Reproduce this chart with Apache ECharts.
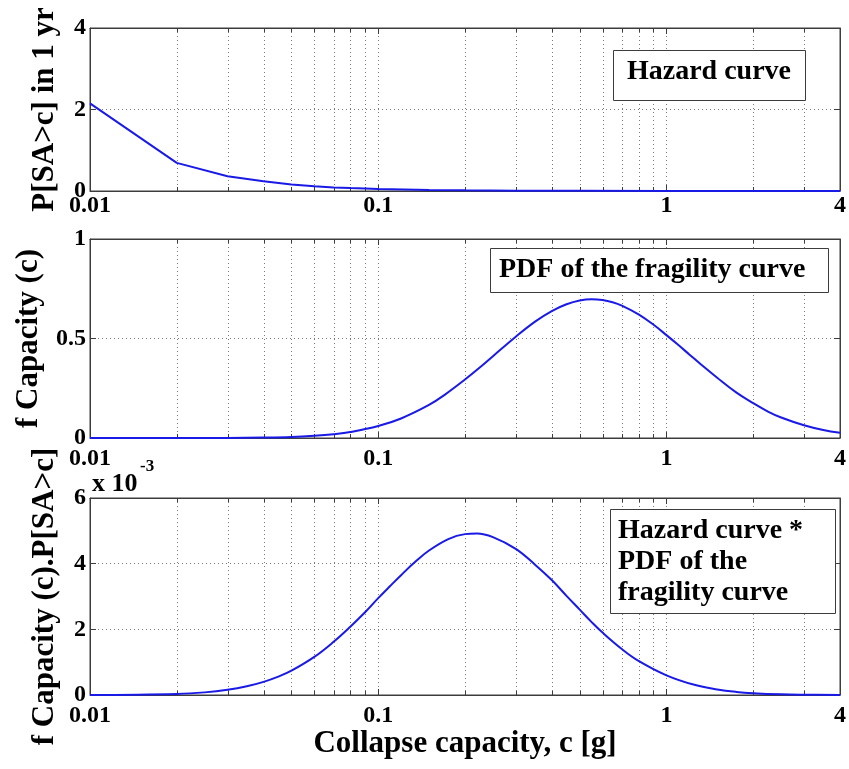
<!DOCTYPE html>
<html>
<head>
<meta charset="utf-8">
<script src="https://cdn.jsdelivr.net/npm/echarts@6/dist/echarts.min.js"></script>
<style>
  html, body { margin: 0; padding: 0; background: #ffffff; }
  #chart { width: 849px; height: 769px; }
</style>
</head>
<body>
<div id="chart"></div>
<script>
// Collapse risk integrand: hazard curve, capacity PDF and their product (log Sa axis)

// Spectral acceleration tick labels and minor grid positions [g]
const xTickLabels = [0.01, 0.1, 1, 4];
const minorGridSa = [0.02, 0.03, 0.04, 0.05, 0.06, 0.07, 0.08, 0.09,
                     0.2, 0.3, 0.4, 0.5, 0.6, 0.7, 0.8, 0.9, 2, 3];

// Hazard curve: annual probability of exceedance P[SA>c]
const hazardSa   = [0.01, 0.02, 0.03, 0.04, 0.05, 0.06, 0.07, 0.08, 0.09, 0.1,
                    0.15, 0.2, 0.3, 0.5, 1, 2, 4];
const hazardProb = [2.15, 0.69, 0.36, 0.24, 0.16, 0.115, 0.088, 0.071, 0.059, 0.049,
                    0.025, 0.016, 0.008, 0.0035, 0.0011, 0.0004, 0.0001];

// Probability density of the collapse capacity (fragility curve PDF)
const pdfSa     = [0.01, 0.02, 0.03, 0.04, 0.05, 0.06, 0.07, 0.08, 0.1, 0.12,
                   0.15, 0.17, 0.2, 0.225, 0.25, 0.3, 0.35, 0.4, 0.45, 0.5,
                   0.55, 0.6, 0.65, 0.7, 0.8, 0.9, 1, 1.1, 1.2, 1.3,
                   1.5, 1.75, 2, 2.25, 2.5, 3, 3.5, 4];
const pdfValues = [0, 0.0001, 0.0005, 0.002, 0.005, 0.011, 0.019, 0.03, 0.06, 0.098,
                   0.166, 0.217, 0.294, 0.354, 0.411, 0.509, 0.585, 0.638, 0.672, 0.691,
                   0.697, 0.693, 0.682, 0.665, 0.621, 0.570, 0.517, 0.467, 0.420, 0.377,
                   0.303, 0.228, 0.175, 0.133, 0.103, 0.064, 0.040, 0.026];

// Product of capacity PDF and hazard
const productSa     = [0.01, 0.02, 0.025, 0.03, 0.035, 0.04, 0.045, 0.05, 0.06, 0.07,
                       0.08, 0.09, 0.1, 0.11, 0.12, 0.135, 0.15, 0.175, 0.2, 0.22,
                       0.25, 0.3, 0.35, 0.4, 0.45, 0.5, 0.55, 0.6, 0.7, 0.8,
                       1, 1.25, 1.5, 1.75, 2, 2.5, 3, 4];
const productValues = [1e-6, 3.3e-5, 8.0e-5, 1.57e-4, 2.64e-4, 4.0e-4, 5.6e-4, 7.4e-4, 1.16e-3, 1.62e-3,
                       2.08e-3, 2.52e-3, 2.95e-3, 3.32e-3, 3.65e-3, 4.07e-3, 4.40e-3, 4.75e-3, 4.90e-3, 4.92e-3,
                       4.81e-3, 4.45e-3, 3.97e-3, 3.50e-3, 3.02e-3, 2.60e-3, 2.22e-3, 1.90e-3, 1.40e-3, 1.04e-3,
                       6.0e-4, 3.1e-4, 1.7e-4, 9.5e-5, 5.7e-5, 2.2e-5, 1.0e-5, 2e-6];

// Panel annotations and axis titles
const panelNotes = ['Hazard curve', 'PDF of the fragility curve',
                    'Hazard curve *\nPDF of the\nfragility curve'];
const yTitles = ['P[SA>c] in 1 yr', 'f Capacity (c)', 'f Capacity (c).P[SA>c]'];
const xTitle = 'Collapse capacity, c [g]';

const FONT = '"Liberation Serif", "Times New Roman", serif';
const INK = '#000000';
const FRAME = '#3c3c3c';
const GRID_DOT = '#7a7a7a';
const LINE_BLUE = '#1a1ae6';

const pairs = (xs, ys) => xs.map((x, i) => [x, ys[i]]);

const panels = [
  { top: 28,  height: 163, yMax: 4,     yStep: 2,     data: pairs(hazardSa, hazardProb),
    yFmt: v => String(v), nameGap: 30, labelMargin: 3, smooth: false },
  { top: 239, height: 199, yMax: 1,     yStep: 0.5,   data: pairs(pdfSa, pdfValues),
    yFmt: v => String(v), nameGap: 46, labelMargin: 9, smooth: 0.4 },
  { top: 498, height: 197, yMax: 0.006, yStep: 0.002, data: pairs(productSa, productValues),
    yFmt: v => String(Math.round(v * 1000)), nameGap: 30, labelMargin: 9, smooth: 0.4 }
];

const grid = [], xAxis = [], yAxis = [], series = [];

panels.forEach((p, i) => {
  grid.push({
    left: 90, top: p.top, width: 753, height: p.height,
    show: true, borderColor: FRAME, borderWidth: 1, backgroundColor: '#ffffff'
  });
  const logBase = {
    type: 'log', logBase: 10, gridIndex: i, min: 0.01, max: 4
  };
  // bottom x axis with labels and major dotted grid
  xAxis.push(Object.assign({}, logBase, {
    position: 'bottom',
    axisLine: { show: true, onZero: false, lineStyle: { color: FRAME, width: 1 } },
    axisTick: { show: true, inside: true, length: 6, lineStyle: { color: FRAME } },
    axisLabel: {
      show: true, margin: p.labelMargin, color: INK, fontFamily: FONT,
      fontWeight: 'bold', fontSize: 24,
      formatter: v => String(+(+v).toPrecision(3))
    },
    splitLine: { show: true, lineStyle: { color: GRID_DOT, type: [1, 3], width: 1 } },
    minorTick: { show: false }, minorSplitLine: { show: false },
    name: i === 2 ? xTitle : '',
    nameLocation: 'middle', nameGap: 33,
    nameTextStyle: { color: INK, fontFamily: FONT, fontWeight: 'bold', fontSize: 31,
                     verticalAlign: 'top' }
  }));
  // top mirror axis: ticks only
  xAxis.push(Object.assign({}, logBase, {
    position: 'top',
    axisLine: { show: true, onZero: false, lineStyle: { color: FRAME, width: 1 } },
    axisTick: { show: true, inside: true, length: 6, lineStyle: { color: FRAME } },
    axisLabel: { show: false }, splitLine: { show: false }
  }));
  // left y axis with labels
  yAxis.push({
    type: 'value', gridIndex: i, position: 'left', min: 0, max: p.yMax, interval: p.yStep,
    axisLine: { show: true, lineStyle: { color: FRAME, width: 1 } },
    axisTick: { show: true, inside: true, length: 6, lineStyle: { color: FRAME } },
    axisLabel: { show: true, margin: 4, color: INK, fontFamily: FONT, fontWeight: 'bold',
                 fontSize: 24, formatter: p.yFmt },
    splitLine: { show: true, lineStyle: { color: GRID_DOT, type: [1, 3], width: 1 } },
    name: yTitles[i], nameLocation: 'middle', nameRotate: 90, nameGap: p.nameGap,
    nameTextStyle: { color: INK, fontFamily: FONT, fontWeight: 'bold', fontSize: 31 }
  });
  // right mirror axis: ticks only
  yAxis.push({
    type: 'value', gridIndex: i, position: 'right', min: 0, max: p.yMax, interval: p.yStep,
    axisLine: { show: true, lineStyle: { color: FRAME, width: 1 } },
    axisTick: { show: true, inside: true, length: 6, lineStyle: { color: FRAME } },
    axisLabel: { show: false }, splitLine: { show: false }
  });

  // minor decade grid lines (2..9 multiples) with inward ticks on both edges
  series.push({
    type: 'custom', xAxisIndex: 2 * i, yAxisIndex: 2 * i, silent: true, z: 1,
    data: minorGridSa.map(v => [v, 0]),
    renderItem: (params, api) => {
      const cs = params.coordSys;
      const x = Math.round(api.coord([api.value(0), 0])[0]) + 0.5;
      const y0 = cs.y, y1 = cs.y + cs.height;
      return {
        type: 'group', children: [
          { type: 'line', shape: { x1: x, y1: y0, x2: x, y2: y1 },
            style: { stroke: GRID_DOT, lineWidth: 1, lineDash: [1, 3] } },
          { type: 'line', shape: { x1: x, y1: y1, x2: x, y2: y1 - 4 },
            style: { stroke: FRAME, lineWidth: 1 } },
          { type: 'line', shape: { x1: x, y1: y0, x2: x, y2: y0 + 4 },
            style: { stroke: FRAME, lineWidth: 1 } }
        ]
      };
    }
  });

  series.push({
    type: 'line', xAxisIndex: 2 * i, yAxisIndex: 2 * i, z: 3,
    data: p.data, showSymbol: false, smooth: p.smooth,
    lineStyle: { color: LINE_BLUE, width: 2 }, clip: false
  });
});

const noteStyle = { fill: INK, font: 'bold 28px ' + FONT };

const graphic = [
  // Hazard curve label
  { type: 'rect', left: 613, top: 50, shape: { width: 192, height: 50 },
    style: { fill: '#ffffff', stroke: FRAME, lineWidth: 1 }, z: 10 },
  { type: 'text', x: 709, y: 72, z: 11,
    style: Object.assign({ text: panelNotes[0], textAlign: 'center', textVerticalAlign: 'middle' }, noteStyle) },
  // PDF label
  { type: 'rect', left: 490, top: 248, shape: { width: 338, height: 44 },
    style: { fill: '#ffffff', stroke: FRAME, lineWidth: 1 }, z: 10 },
  { type: 'text', x: 499, y: 270, z: 11,
    style: Object.assign({ text: panelNotes[1], textAlign: 'left', textVerticalAlign: 'middle' }, noteStyle) },
  // Product label
  { type: 'rect', left: 610, top: 509, shape: { width: 225, height: 104 },
    style: { fill: '#ffffff', stroke: FRAME, lineWidth: 1 }, z: 10 },
  { type: 'text', x: 618, y: 515, z: 11,
    style: Object.assign({ text: panelNotes[2], textAlign: 'left', textVerticalAlign: 'top',
                           lineHeight: 31 }, noteStyle) },
  // exponent multiplier for the bottom panel
  { type: 'text', x: 92, y: 484, z: 11,
    style: { text: 'x 10', fill: INK, font: 'bold 26px ' + FONT, textVerticalAlign: 'middle' } },
  { type: 'text', x: 140, y: 467, z: 11,
    style: { text: '-3', fill: INK, font: 'bold 17px ' + FONT, textVerticalAlign: 'middle' } }
];

const chart = echarts.init(document.getElementById('chart'), null, { renderer: 'canvas' });
chart.setOption({
  backgroundColor: '#ffffff',
  animation: false,
  grid, xAxis, yAxis, series, graphic
});
</script>
</body>
</html>
